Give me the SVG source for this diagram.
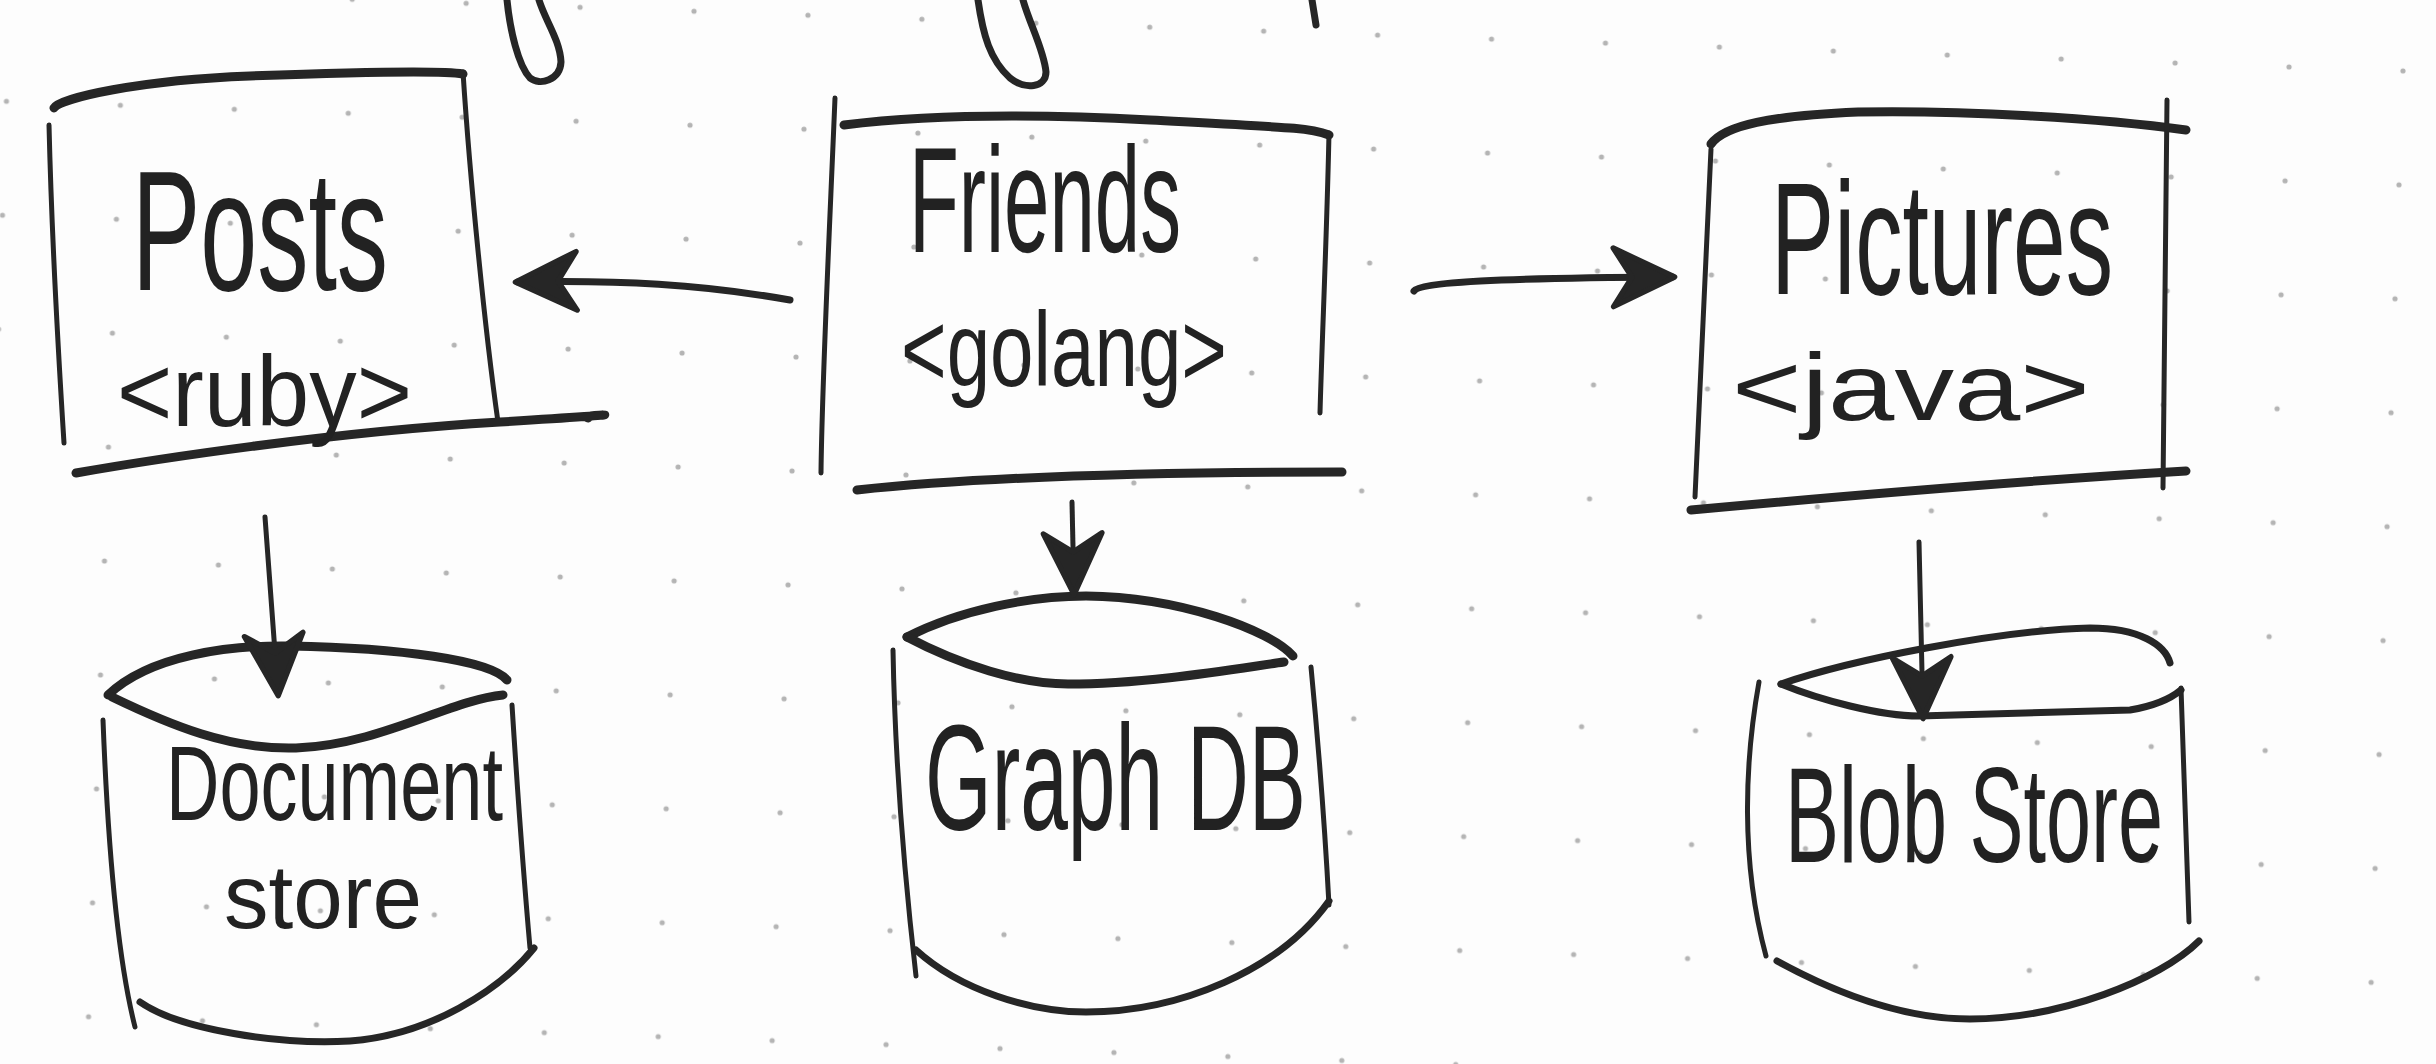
<svg xmlns="http://www.w3.org/2000/svg" width="2436" height="1064" viewBox="0 0 2436 1064">
<style>
.s{fill:none;stroke:#262626;stroke-linecap:round;stroke-linejoin:round}
.w9{stroke-width:9}.w7{stroke-width:7}.w5{stroke-width:5}
.lbl{font-family:"Liberation Sans",Arial,sans-serif;fill:#222}
</style>
<defs>
<pattern id="dots" patternUnits="userSpaceOnUse" width="114" height="114" patternTransform="rotate(2)">
<circle cx="10" cy="101" r="2.6" fill="#b4b4b4"/>
</pattern>
<marker id="ah" markerUnits="userSpaceOnUse" markerWidth="80" markerHeight="80" refX="0" refY="0" viewBox="-50 -30 60 60" orient="auto">
<path d="M-44,-22 L2,0 L-44,22 L-30,0 Z" fill="#262626" stroke="#262626" stroke-width="4" stroke-linejoin="round"/>
</marker>
</defs>
<rect width="2436" height="1064" fill="#fdfdfd"/>
<rect width="2436" height="1064" fill="url(#dots)"/>

<g id="fragments">
<path class="s w7" d="M507,0 C510,30 518,65 530,78 C540,86 560,80 561,62 C560,40 545,20 539,0"/>
<path class="s w7" d="M978,0 C983,35 990,60 1010,78 C1025,90 1046,88 1046,72 C1044,50 1030,25 1023,0"/>
<path class="s w7" d="M1312,0 L1316,25"/>
</g>

<g id="posts">
<path class="s w9" d="M54,108 C60,98 140,80 250,76 S440,70 463,74"/>
<path class="s w5" d="M463,72 C470,180 485,330 498,422"/>
<path class="s w5" d="M49,125 C52,250 60,380 64,443"/>
<path class="s w9" d="M76,473 C150,460 330,432 500,422 S580,414 588,418"/>
<text class="lbl" x="132" y="290" font-size="170" textLength="256" lengthAdjust="spacingAndGlyphs">Posts</text>
<text class="lbl" x="117" y="426" font-size="100" textLength="295" lengthAdjust="spacingAndGlyphs">&lt;ruby&gt;</text>
</g>

<g id="friends">
<path class="s w5" d="M835,98 C830,220 822,380 821,473"/>
<path class="s w9" d="M844,125 C900,118 1000,112 1150,120 S1310,128 1329,135"/>
<path class="s w5" d="M1329,133 C1327,230 1322,340 1320,413"/>
<path class="s w9" d="M857,490 C950,480 1100,472 1342,472"/>
<text class="lbl" x="909" y="252" font-size="150" textLength="272" lengthAdjust="spacingAndGlyphs">Friends</text>
<text class="lbl" x="901" y="386" font-size="105" textLength="326" lengthAdjust="spacingAndGlyphs">&lt;golang&gt;</text>
</g>

<g id="pictures">
<path class="s w9" d="M1711,144 C1725,125 1770,116 1858,112 C1960,110 2100,118 2186,130"/>
<path class="s w5" d="M2167,100 L2163,488"/>
<path class="s w5" d="M1711,149 C1705,280 1698,420 1695,497"/>
<path class="s w9" d="M1691,510 C1800,500 2000,482 2186,471"/>
<text class="lbl" x="1771" y="294" font-size="160" textLength="342" lengthAdjust="spacingAndGlyphs">Pictures</text>
<text class="lbl" x="1732" y="420" font-size="95" textLength="358" lengthAdjust="spacingAndGlyphs">&lt;java&gt;</text>
</g>

<g id="document-store">
<path class="s w9" d="M108,695 C150,655 230,645 290,646 C400,648 490,660 507,680"/>
<path class="s w9" d="M112,697 C170,725 230,750 296,748 C380,745 450,700 503,695"/>
<path class="s w5" d="M103,720 C108,850 118,960 135,1027"/>
<path class="s w5" d="M512,705 C518,800 524,880 530,948"/>
<path class="s w7" d="M140,1002 C180,1030 280,1045 350,1041 C430,1035 500,990 534,948"/>
<text class="lbl" x="166" y="820" font-size="105" textLength="337" lengthAdjust="spacingAndGlyphs">Document</text>
<text class="lbl" x="224" y="928" font-size="90" textLength="198" lengthAdjust="spacingAndGlyphs">store</text>
</g>

<g id="graph-db">
<path class="s w9" d="M907,637 C960,610 1030,596 1086,596 C1180,597 1270,630 1293,656"/>
<path class="s w9" d="M907,637 C960,665 1020,684 1068,684 C1150,684 1240,668 1284,662"/>
<path class="s w5" d="M893,650 C895,760 905,880 916,976"/>
<path class="s w5" d="M1311,667 C1318,740 1325,830 1329,905"/>
<path class="s w7" d="M916,950 C960,990 1030,1012 1086,1012 C1180,1012 1280,970 1329,901"/>
<text class="lbl" x="925" y="830" font-size="150" textLength="381" lengthAdjust="spacingAndGlyphs">Graph DB</text>
</g>

<g id="blob-store">
<path class="s w7" d="M1781,684 C1850,660 2000,630 2090,628 C2140,628 2165,645 2170,663"/>
<path class="s w7" d="M1781,684 C1820,700 1880,716 1919,716 L2130,710 C2160,705 2175,695 2181,690"/>
<path class="s w5" d="M1759,682 C1745,760 1740,860 1766,956"/>
<path class="s w5" d="M2181,688 L2189,922"/>
<path class="s w7" d="M1777,961 C1830,990 1900,1019 1970,1019 C2060,1019 2160,980 2199,941"/>
<text class="lbl" x="1785" y="862" font-size="136" textLength="378" lengthAdjust="spacingAndGlyphs">Blob Store</text>
</g>

<g id="connectors">
<path class="s w7" marker-end="url(#ah)" d="M790,300 C700,284 620,280 518,282"/>
<path class="s w7" marker-end="url(#ah)" d="M1414,291 C1420,282 1500,278 1672,277"/>
<path class="s w5" marker-end="url(#ah)" d="M265,517 L278,693"/>
<path class="s w5" marker-end="url(#ah)" d="M1072,502 L1074,592"/>
<path class="s w5" marker-end="url(#ah)" d="M1919,542 L1923,716"/>
</g>
</svg>
